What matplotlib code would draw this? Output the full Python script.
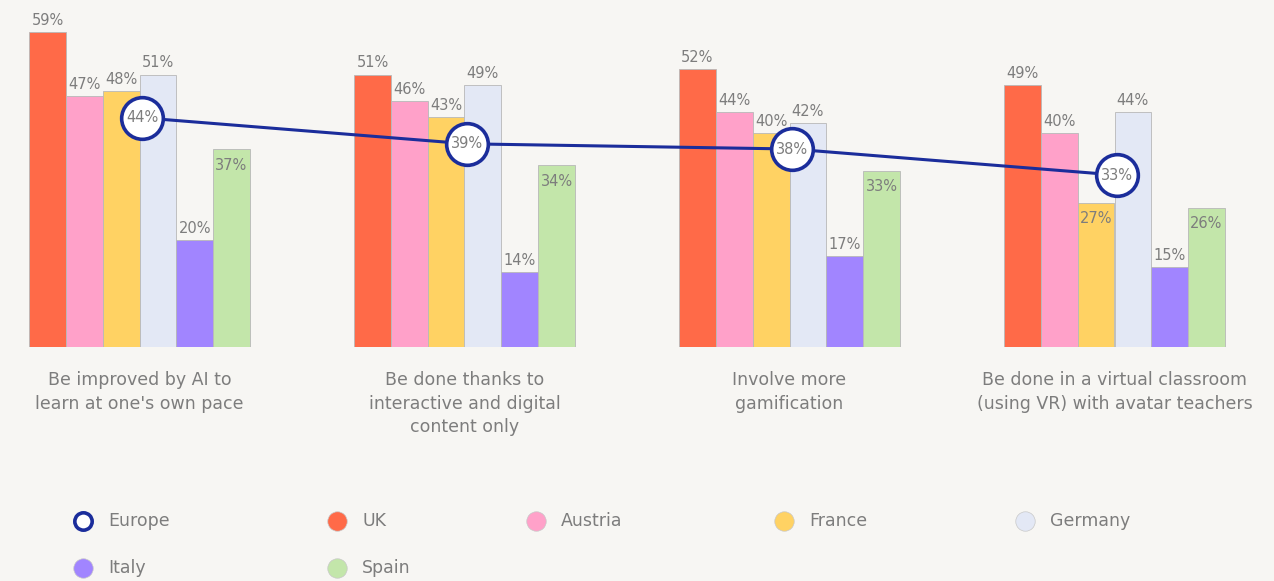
import matplotlib
matplotlib.use("Agg")
import matplotlib.pyplot as plt
import numpy as np

categories = [
    "Be improved by AI to\nlearn at one's own pace",
    "Be done thanks to\ninteractive and digital\ncontent only",
    "Involve more\ngamification",
    "Be done in a virtual classroom\n(using VR) with avatar teachers",
]
countries = ["UK", "Austria", "France", "Germany", "Italy", "Spain"]
uk = [59, 51, 52, 49]
austria = [47, 46, 44, 40]
france = [48, 43, 40, 27]
germany = [51, 49, 42, 44]
italy = [20, 14, 17, 15]
spain = [37, 34, 33, 26]
europe = [44, 39, 38, 33]

series = [uk, austria, france, germany, italy, spain]
colors = ["#ff6a48", "#ffa1c9", "#ffd263", "#e3e8f5", "#a185ff", "#c3e6aa"]
europe_color = "#1b2d9b"
text_color = "#7d7d7d"
bg = "#f7f6f3"
# labels drawn inside the bar top (series index, group index)
inside = {(5, 0), (5, 1), (5, 2), (5, 3), (2, 3)}

W, H = 1274, 581
fig = plt.figure(figsize=(W / 100, H / 100), dpi=100, facecolor=bg)
font = "DejaVu Sans"

bottom_px = 347
ax = fig.add_axes([0, (H - bottom_px) / H, 1, bottom_px / H])
ax.set_facecolor("none")
spacing = 325.0
left0 = 139.5
ax.set_xlim(-left0 / spacing, (W - left0) / spacing)
ax.set_ylim(0, bottom_px / 5.34)
ax.axis("off")

x = np.arange(len(categories))
bw = 36.8 / spacing
n = len(series)
for si, (vals, c) in enumerate(zip(series, colors)):
    xs = x + (si - (n - 1) / 2) * bw
    ax.bar(xs, vals, width=bw, color=c, edgecolor="#b8b8b8", linewidth=0.6, zorder=2)
    for gi, (xx, v) in enumerate(zip(xs, vals)):
        if (si, gi) in inside:
            ax.annotate(f"{v}%", (xx, v), xytext=(0, -6), textcoords="offset points",
                        ha="center", va="top", fontsize=10.5, color=text_color,
                        family=font, zorder=5)
        else:
            ax.annotate(f"{v}%", (xx, v), xytext=(0, 3), textcoords="offset points",
                        ha="center", va="bottom", fontsize=10.5, color=text_color,
                        family=font, zorder=5)

ax2 = ax.twinx()
ax2.set_xlim(ax.get_xlim())
ax2.set_ylim(0, bottom_px / 5.21)
ax2.axis("off")
ax2.plot(x + 0.008, europe, color=europe_color, lw=2.2, zorder=3)
ax2.plot(x + 0.008, europe, ls="none", marker="o", ms=30, mfc="white",
         mec=europe_color, mew=2.6, zorder=4)
for xx, v in zip(x, europe):
    ax2.text(xx + 0.008, v, f"{v}%", ha="center", va="center", fontsize=10.5,
             color=text_color, family=font, zorder=6)

# category labels
for i, cat in enumerate(categories):
    px = left0 + i * spacing
    fig.text(px / W, 1 - 371 / H, cat, ha="center", va="top", fontsize=12.5,
             color=text_color, family=font, linespacing=1.4)

# legend
lax = fig.add_axes([0, 0, 1, 1])
lax.set_xlim(0, W)
lax.set_ylim(H, 0)
lax.axis("off")
lax.set_facecolor("none")
leg_names = ["Europe"] + countries
leg_pos = [(83, 521), (337, 521), (536, 521), (784, 521), (1025, 521),
           (83, 568), (337, 568)]
for k, (name, (lx, ly)) in enumerate(zip(leg_names, leg_pos)):
    if k == 0:
        lax.plot(lx, ly, marker="o", ms=12.5, mfc="white", mec=europe_color, mew=2.6)
    else:
        lax.plot(lx, ly, marker="o", ms=14, mfc=colors[k - 1], mec="#c8c8c8", mew=0.5)
    lax.text(lx + 25, ly, name, ha="left", va="center", fontsize=12.5,
             color=text_color, family=font)

fig.savefig("out.png", dpi=100, facecolor=bg)
